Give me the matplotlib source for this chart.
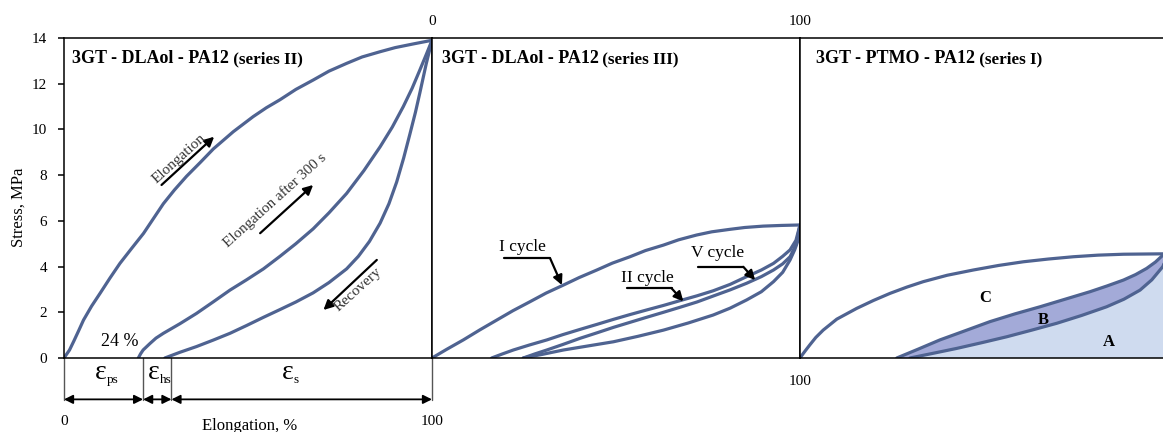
import numpy as np
import matplotlib
matplotlib.use("Agg")
import matplotlib.pyplot as plt

plt.rcParams['font.family'] = ['Liberation Serif', 'DejaVu Serif']
plt.rcParams['lines.solid_joinstyle'] = 'round'
plt.rcParams['lines.solid_capstyle'] = 'round'

LINE = '#4f6391'
FILL_B = '#a3aad8'
FILL_A = '#cfdbef'

# 3GT - DLAol - PA12 (series II): first elongation, elongation after 300 s, recovery
s2_load_x = [0, 1.5, 2.7, 4, 5.3, 7.5, 9.8, 12.5, 15.2, 18.4, 21.6, 24.3, 27, 30, 33.3,
             37, 40.6, 46, 51.4, 55, 58.7, 63, 67.7, 72, 76.8, 81, 85.9, 90, 94.9, 100]
s2_load_y = [0, 0.35, 0.75, 1.2, 1.66, 2.27, 2.83, 3.5, 4.14, 4.8, 5.45, 6.1, 6.75, 7.35, 7.95,
             8.55, 9.15, 9.9, 10.56, 10.95, 11.3, 11.75, 12.16, 12.55, 12.89, 13.17, 13.4,
             13.58, 13.74, 13.9]
s2_reload_x = [20.2, 20.8, 21.5, 23.4, 25, 27, 31.5, 36, 40.5, 45.1, 49.6, 54.2, 58.7, 63,
               67.7, 72, 76.8, 81.5, 85.9, 89.2, 92.2, 94.6, 96.7, 98.5, 100]
s2_reload_y = [0, 0.18, 0.35, 0.64, 0.87, 1.08, 1.5, 1.95, 2.45, 2.97, 3.42, 3.9, 4.45, 5.0,
               5.65, 6.35, 7.2, 8.2, 9.24, 10.1, 11.0, 11.8, 12.6, 13.3, 13.9]
s2_recov_x = [27.4, 31.5, 36, 40.5, 45.1, 49.6, 54.2, 58.7, 63, 67.7, 72, 76.8, 80, 83,
              85.9, 88.3, 90.4, 92.3, 94, 95.5, 96.7, 98.4, 100]
s2_recov_y = [0, 0.25, 0.5, 0.78, 1.08, 1.42, 1.78, 2.12, 2.45, 2.85, 3.3, 3.9, 4.45, 5.1,
              5.9, 6.75, 7.7, 8.75, 9.8, 10.75, 11.6, 12.85, 13.9]
eps_marks = [0, 21.5, 29.2, 100]
eps_names = ['ps', 'hs', 's']

# 3GT - DLAol - PA12 (series III): cycles I, II, V and recovery
s3_c1_x = [0, 4, 8.5, 13, 17.6, 22, 26.6, 31, 35.7, 40, 44.8, 49, 53.8, 58, 62.9, 67,
           71.9, 76, 81, 85, 90, 95, 100]
s3_c1_y = [0, 0.38, 0.79, 1.23, 1.66, 2.07, 2.46, 2.84, 3.19, 3.52, 3.85, 4.15, 4.43, 4.7,
           4.94, 5.17, 5.38, 5.52, 5.63, 5.71, 5.77, 5.8, 5.82]
s3_c2_x = [16.2, 19, 22.1, 26.5, 31.2, 35.5, 40.2, 44.8, 49.3, 53.8, 58.3, 62.9, 67.4, 72,
           76.4, 81, 85.5, 89.5, 92.8, 95.3, 97.3, 98.9, 100]
s3_c2_y = [0, 0.17, 0.35, 0.57, 0.79, 1.02, 1.25, 1.47, 1.69, 1.9, 2.1, 2.3, 2.51, 2.72,
           2.94, 3.22, 3.56, 3.85, 4.14, 4.45, 4.73, 5.15, 5.82]
s3_c5_x = [24.8, 27.8, 31.2, 35.7, 40.2, 44.8, 49.3, 53.8, 58.3, 62.9, 67.4, 72, 76.4, 81,
           85.5, 89.5, 92.8, 95.3, 97.3, 98.9, 100]
s3_c5_y = [0, 0.17, 0.35, 0.6, 0.86, 1.1, 1.34, 1.56, 1.78, 2.0, 2.22, 2.45, 2.71, 2.98,
           3.27, 3.56, 3.85, 4.12, 4.43, 4.95, 5.82]
s3_rec_x = [24.8, 30, 35.7, 42.5, 49.3, 56, 62.9, 69.6, 76.4, 81, 85.5, 89.5, 92.8, 95.3,
            97.3, 98.6, 99.5, 100]
s3_rec_y = [0, 0.16, 0.35, 0.53, 0.71, 0.95, 1.22, 1.53, 1.88, 2.18, 2.54, 2.9, 3.34, 3.75,
            4.29, 4.75, 5.16, 5.82]

# 3GT - PTMO - PA12 (series I): loading (C), unloading (B), reloading (A)
s1_c_x = [0, 0.8, 1.6, 2.7, 4.3, 6.3, 10, 15.4, 20, 24.5, 29, 33.5, 40, 47.1, 54, 60.7,
          67.5, 74.3, 81, 87.9, 94, 100]
s1_c_y = [0, 0.18, 0.35, 0.58, 0.9, 1.22, 1.7, 2.17, 2.52, 2.83, 3.1, 3.34, 3.62, 3.85,
          4.05, 4.21, 4.33, 4.43, 4.5, 4.54, 4.55, 4.56]
s1_b_x = [26.3, 32, 38, 45, 51.6, 58.4, 65.2, 72, 78.8, 83.4, 87.9, 91.2, 94.2, 96.6, 98.6, 100]
s1_b_y = [0, 0.38, 0.79, 1.2, 1.59, 1.93, 2.24, 2.57, 2.9, 3.15, 3.41, 3.65, 3.92, 4.2, 4.5, 4.56]
s1_a_x = [29.9, 36, 42.6, 49.4, 56.2, 63, 69.8, 76.5, 83.3, 88, 92.4, 95.6, 98.6, 100]
s1_a_y = [0, 0.2, 0.42, 0.67, 0.93, 1.22, 1.52, 1.86, 2.24, 2.57, 2.97, 3.42, 4.0, 4.56]

W, H = 1163, 432
fig = plt.figure(figsize=(W / 100, H / 100), dpi=100)

def panel(left):
    ax = fig.add_axes([left / W, 74 / H, 368 / W, 320 / H])
    ax.set_xlim(0, 100)
    ax.set_ylim(0, 14)
    for s in ax.spines.values():
        s.set_linewidth(1.1)
    return ax

ax1 = panel(64)
ax2 = panel(432)
ax3 = panel(800)

def title(ax, x, main, sub):
    t = ax.text(x, 0.922, main, transform=ax.transAxes, fontsize=13,
                fontweight='bold', va='baseline', ha='left')
    ax.annotate(' ' + sub, xy=(1, 0), xycoords=t, va='bottom', ha='left',
                fontsize=12.3, fontweight='bold')

arrow_kw = dict(arrowstyle='-|>', color='black', lw=1.6, mutation_scale=14,
                shrinkA=0, shrinkB=0)

# ---- series II ----
for xs, ys in [(s2_load_x, s2_load_y), (s2_reload_x, s2_reload_y), (s2_recov_x, s2_recov_y)]:
    ax1.plot(xs, ys, color=LINE, lw=2.3)
title(ax1, 0.021, '3GT - DLAol - PA12', '(series II)')

ax1.set_yticks(np.arange(0, 15, 2))
ax1.tick_params(axis='y', direction='out', length=4, width=1.1, pad=8, labelsize=11)
ax1.set_xticks([0, 100])
ax1.tick_params(axis='x', length=0, pad=41, labelsize=11)
ax1.text(-0.124, 0.47, 'Stress, MPa', transform=ax1.transAxes, rotation=90,
         ha='center', va='center', fontsize=12)
ax1.text(0.505, -0.187, 'Elongation, %', transform=ax1.transAxes,
         ha='center', va='top', fontsize=12)

ax1.text(15.2, 0.71, '24 %', ha='center', va='center', fontsize=13)

ax1.annotate('', xy=(40.8, 9.68), xytext=(26.5, 7.57), arrowprops=arrow_kw)
ax1.text(31.3, 8.7, 'Elongation', rotation=42, ha='center', va='center',
         fontsize=11, color='#333333', rotation_mode='anchor')
ax1.annotate('', xy=(67.7, 7.57), xytext=(53.3, 5.46), arrowprops=arrow_kw)
ax1.text(57.3, 6.91, 'Elongation after 300 s', rotation=42, ha='center',
         va='center', fontsize=10.8, color='#333333', rotation_mode='anchor')
ax1.annotate('', xy=(70.5, 2.1), xytext=(85, 4.29), arrowprops=arrow_kw)
ax1.text(80, 3.01, 'Recovery', rotation=42, ha='center', va='center',
         fontsize=11, color='#333333', rotation_mode='anchor')

# strain components below the axis
for xm in eps_marks:
    ax1.plot([xm, xm], [0, -1.84], color='#555555', lw=1, clip_on=False)
for x0, x1 in zip(eps_marks[:-1], eps_marks[1:]):
    ax1.annotate('', xy=(x1, -1.81), xytext=(x0, -1.81), annotation_clip=False,
                 arrowprops=dict(arrowstyle='<|-|>', color='black', lw=1.3,
                                 mutation_scale=13, shrinkA=0, shrinkB=0))
for xc, sub in zip([10.05, 24.5, 60.7], eps_names):
    e = ax1.text(xc, -0.9, 'ε', ha='center', va='baseline', fontsize=20, clip_on=False)
    ax1.annotate(sub, xy=(1, 0.2), xycoords=e, ha='left', va='center', fontsize=9.5)

# ---- series III ----
for xs, ys in [(s3_c1_x, s3_c1_y), (s3_c2_x, s3_c2_y),
               (s3_c5_x, s3_c5_y), (s3_rec_x, s3_rec_y)]:
    ax2.plot(xs, ys, color=LINE, lw=2.3)
title(ax2, 0.026, '3GT - DLAol - PA12', '(series III)')

ax2.set_yticks([])
ax2.set_xticks([100])
ax2.tick_params(axis='x', length=0, pad=12, labelsize=11)
top = ax2.secondary_xaxis('top')
top.set_xticks([0, 100])
top.tick_params(length=0, pad=7, labelsize=11)
top.spines['top'].set_visible(False)

for label, (tx, ty), (l0, l1, ly), tip in [
        ('I cycle', (24.7, 4.84), (19.6, 32.1, 4.36), (35.3, 3.19)),
        ('II cycle', (58.6, 3.52), (52.9, 65.1, 3.05), (68.3, 2.48)),
        ('V cycle', (77.6, 4.59), (72.3, 84.6, 3.99), (87.8, 3.41))]:
    ax2.text(tx, ty, label, ha='center', va='center', fontsize=12.5)
    ax2.plot([l0, l1], [ly, ly], color='black', lw=1.6)
    ax2.annotate('', xy=tip, xytext=(l1, ly), arrowprops=arrow_kw)

# ---- series I ----
ax3.fill(s1_a_x + [100, s1_a_x[0]], s1_a_y + [0, 0], color=FILL_A, lw=0)
ax3.fill(s1_b_x + s1_a_x[::-1], s1_b_y + s1_a_y[::-1], color=FILL_B, lw=0)
for xs, ys in [(s1_c_x, s1_c_y), (s1_b_x, s1_b_y), (s1_a_x, s1_a_y)]:
    ax3.plot(xs, ys, color=LINE, lw=2.3)
title(ax3, 0.0435, '3GT - PTMO - PA12', '(series I)')
ax3.set_xticks([])
ax3.set_yticks([])
for lab, (lx, ly) in zip(['C', 'B', 'A'], [(50.3, 2.62), (66.1, 1.66), (83.8, 0.71)]):
    ax3.text(lx, ly, lab, ha='center', va='center', fontsize=12, fontweight='bold')

fig.savefig('out.png', dpi=100)
